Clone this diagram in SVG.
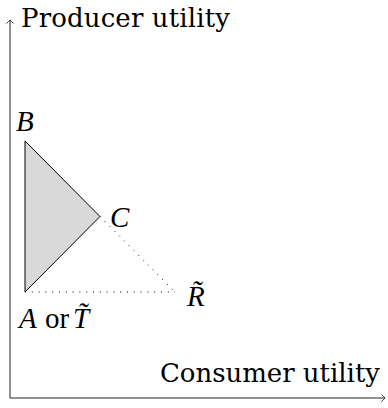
<svg xmlns="http://www.w3.org/2000/svg" width="388" height="408" viewBox="0 0 388 408">
<style>
.axis{stroke:#222;stroke-width:1;fill:none}
.lab{font-family:"DejaVu Serif","Liberation Serif",serif;font-size:26px;fill:#000}
.math{font-family:"Liberation Serif",serif;font-style:italic;font-size:29px;fill:#000}
.up{font-family:"Liberation Serif",serif;font-size:29px;fill:#000}
.dot{stroke:#000;stroke-width:1;stroke-dasharray:1 5.8;fill:none}
</style>
<defs>
<marker id="tip" viewBox="-5 -5 7 10" markerWidth="7" markerHeight="10" refX="0" refY="0" orient="auto" markerUnits="userSpaceOnUse">
<path d="M-3.5,-3.5 Q-0.8,-0.8 0,0 Q-0.8,0.8 -3.5,3.5" stroke="#222" stroke-width="0.9" fill="none"/>
</marker>
</defs>
<g id="axes">
<line class="axis" x1="10" y1="398" x2="10" y2="20" marker-end="url(#tip)"/>
<line class="axis" x1="10" y1="398" x2="385" y2="398" marker-end="url(#tip)"/>
<text class="lab" x="21" y="27" textLength="209" lengthAdjust="spacing">Producer utility</text>
<text class="lab" x="160" y="382" textLength="220" lengthAdjust="spacing">Consumer utility</text>
</g>
<g id="region">
<polygon points="25,141 100,216.5 25,292" fill="#d9d9d9" stroke="#000" stroke-width="1" stroke-linejoin="miter"/>
</g>
<g id="connectors">
<line class="dot" x1="100" y1="216.5" x2="175" y2="292"/>
<line class="dot" x1="25" y1="292" x2="175" y2="292"/>
</g>
<g id="node-B"><text class="math" x="16" y="131">B</text></g>
<g id="node-C"><text class="math" x="110" y="227">C</text></g>
<g id="node-R"><text class="math" x="187" y="306">R&#771;</text></g>
<g id="node-A"><text class="math" x="19" y="328">A</text><text class="up" x="45" y="328">or</text><text class="math" x="73" y="328">T&#771;</text></g>
</svg>
